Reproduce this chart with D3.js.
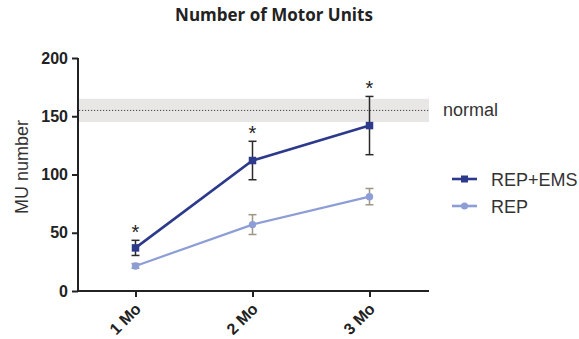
<!DOCTYPE html>
<html>
<head>
<meta charset="utf-8">
<script src="https://cdn.jsdelivr.net/npm/d3@7"></script>
<style>
  html, body { margin: 0; padding: 0; background: #fff; }
  svg { display: block; }
</style>
</head>
<body>
<svg id="chart" width="579" height="339"></svg>
<script>
// Timepoints and tick labels
const timepoints = ["1 Mo", "2 Mo", "3 Mo"];
const yTicks = [0, 50, 100, 150, 200];

// Series means and error (SEM) per timepoint
const repEmsMean = [37, 112, 142];
const repEmsErr  = [6.5, 16.5, 25];
const repMean    = [21.5, 57, 81];
const repErr     = [2, 8.5, 7];

// Normal reference range
const normalMean = 155;
const normalRange = [145, 165];

// Significance markers (REP+EMS vs REP)
const significant = [true, true, true];

const svg = d3.select("#chart");

const x = d3.scalePoint().domain(timepoints).range([77, 428]).padding(0.5);
const y = d3.scaleLinear().domain([0, 200]).range([291, 58]);

const darkBlue = "#2d3a8c";
const lightBlue = "#8d9ed6";

// Title
svg.append("text")
  .attr("x", 274).attr("y", 21)
  .attr("text-anchor", "middle")
  .attr("font-family", "'Open Sans', sans-serif")
  .attr("font-weight", "bold")
  .attr("font-size", 17)
  .attr("fill", "#222")
  .text("Number of Motor Units");

// Normal band and dotted mean line
svg.append("rect")
  .attr("x", 78).attr("width", 429 - 78)
  .attr("y", y(normalRange[1]))
  .attr("height", y(normalRange[0]) - y(normalRange[1]))
  .attr("fill", "#e9e7e5");
svg.append("line")
  .attr("x1", 79).attr("x2", 429)
  .attr("y1", y(normalMean)).attr("y2", y(normalMean))
  .attr("stroke", "#444").attr("stroke-width", 1)
  .attr("stroke-dasharray", "1.2,1.8");
svg.append("text")
  .attr("x", 443).attr("y", y(normalMean) + 6)
  .attr("font-family", "'Liberation Sans', Arial, sans-serif")
  .attr("font-size", 18)
  .attr("fill", "#333")
  .text("normal");

// Axes
const yAxis = svg.append("g")
  .attr("transform", "translate(78,0)")
  .call(d3.axisLeft(y).tickValues(yTicks).tickSize(6).tickSizeOuter(0).tickPadding(4));
const xAxis = svg.append("g")
  .attr("transform", "translate(0,291)")
  .call(d3.axisBottom(x).tickSize(6).tickSizeOuter(0));

[yAxis, xAxis].forEach(g => {
  g.select(".domain").attr("stroke", "#222").attr("stroke-width", 2);
  g.selectAll(".tick line").attr("stroke", "#222").attr("stroke-width", 2);
  g.selectAll(".tick text")
    .attr("font-family", "'Liberation Sans', Arial, sans-serif")
    .attr("font-weight", "bold")
    .attr("font-size", 16)
    .attr("fill", "#222");
});
xAxis.select(".domain").attr("d", "M77,0H429");
yAxis.select(".domain").attr("d", "M0,291V58");

xAxis.selectAll(".tick text")
  .attr("text-anchor", "end")
  .attr("dy", null)
  .attr("y", 0)
  .attr("transform", "translate(6,19) rotate(-45)");

// Y axis title
svg.append("text")
  .attr("transform", "translate(28,167) rotate(-90)")
  .attr("text-anchor", "middle")
  .attr("font-family", "'Liberation Sans', Arial, sans-serif")
  .attr("font-size", 18)
  .attr("fill", "#333")
  .text("MU number");

// Series drawing
const series = [
  { name: "REP", mean: repMean, err: repErr, color: lightBlue, errColor: "#9d9786", width: 2.2, shape: "circle" },
  { name: "REP+EMS", mean: repEmsMean, err: repEmsErr, color: darkBlue, errColor: "#2a2a2a", width: 2.6, shape: "square" }
];

const line = d3.line().x(d => x(d.t)).y(d => y(d.v));

series.forEach(s => {
  const pts = timepoints.map((t, i) => ({ t, v: s.mean[i], e: s.err[i] }));
  const g = svg.append("g");

  // error bars
  pts.forEach(p => {
    const cx = x(p.t), top = y(p.v + p.e), bot = y(p.v - p.e);
    g.append("line").attr("x1", cx).attr("x2", cx).attr("y1", top).attr("y2", bot)
      .attr("stroke", s.errColor).attr("stroke-width", 1.5);
    [top, bot].forEach(yy => g.append("line")
      .attr("x1", cx - 4).attr("x2", cx + 4).attr("y1", yy).attr("y2", yy)
      .attr("stroke", s.errColor).attr("stroke-width", 1.5));
  });

  g.append("path").datum(pts)
    .attr("d", line)
    .attr("fill", "none")
    .attr("stroke", s.color)
    .attr("stroke-width", s.width);

  pts.forEach(p => {
    if (s.shape === "square") {
      g.append("rect")
        .attr("x", x(p.t) - 3.75).attr("y", y(p.v) - 3.75)
        .attr("width", 7.5).attr("height", 7.5)
        .attr("fill", s.color);
    } else {
      g.append("circle")
        .attr("cx", x(p.t)).attr("cy", y(p.v)).attr("r", 3.7)
        .attr("fill", s.color);
    }
  });
});

// Significance asterisks above REP+EMS error bars
timepoints.forEach((t, i) => {
  if (!significant[i]) return;
  svg.append("text")
    .attr("x", x(t)).attr("y", y(repEmsMean[i] + repEmsErr[i]) - 1)
    .attr("text-anchor", "middle")
    .attr("font-family", "'Liberation Sans', Arial, sans-serif")
    .attr("font-size", 20)
    .attr("fill", "#222")
    .text("*");
});

// Legend
const legend = [
  { name: "REP+EMS", color: darkBlue, shape: "square", y: 179 },
  { name: "REP", color: lightBlue, shape: "circle", y: 206 }
];
legend.forEach(l => {
  svg.append("line")
    .attr("x1", 452).attr("x2", 477).attr("y1", l.y).attr("y2", l.y)
    .attr("stroke", l.color).attr("stroke-width", 2.6);
  if (l.shape === "square") {
    svg.append("rect").attr("x", 464.5 - 3.5).attr("y", l.y - 3.5)
      .attr("width", 7).attr("height", 7).attr("fill", l.color);
  } else {
    svg.append("circle").attr("cx", 464.5).attr("cy", l.y).attr("r", 3.5).attr("fill", l.color);
  }
  svg.append("text")
    .attr("x", 491).attr("y", l.y + 6.5)
    .attr("font-family", "'Liberation Sans', Arial, sans-serif")
    .attr("font-size", 18)
    .attr("fill", "#333")
    .text(l.name);
});
</script>
</body>
</html>
